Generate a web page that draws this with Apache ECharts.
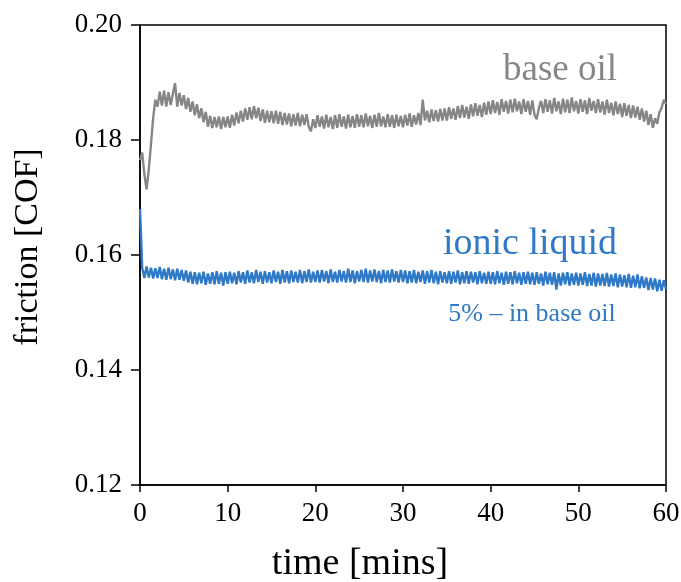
<html>
<head>
<meta charset="utf-8">
<title>friction vs time</title>
<script src="https://cdn.jsdelivr.net/npm/echarts@6/dist/echarts.min.js"></script>
<style>
    body { margin: 0; background: #fff; }
    #chart { width: 681px; height: 582px; }
</style>
</head>
<body>
<div id="chart"></div>
<script>
// one reading every 0.25 min, 0 .. 60
var step_mins = 0.25;

var base_oil = [
    0.1765, 0.1778, 0.1740, 0.1714, 0.1748, 0.1792, 0.1838, 0.1870, 0.1858, 0.1884, 0.1860, 0.1886, 0.1858, 0.1883, 0.1861, 0.1880, 0.1899, 0.1858, 0.1882, 0.1860,
    0.1878, 0.1854, 0.1873, 0.1849, 0.1867, 0.1843, 0.1862, 0.1838, 0.1855, 0.1831, 0.1849, 0.1823, 0.1842, 0.1821, 0.1840, 0.1822, 0.1841, 0.1819, 0.1840, 0.1822,
    0.1841, 0.1821, 0.1844, 0.1825, 0.1848, 0.1829, 0.1851, 0.1832, 0.1855, 0.1835, 0.1857, 0.1836, 0.1859, 0.1838, 0.1856, 0.1833, 0.1853, 0.1830, 0.1851, 0.1831,
    0.1850, 0.1829, 0.1851, 0.1828, 0.1849, 0.1826, 0.1847, 0.1827, 0.1846, 0.1824, 0.1845, 0.1825, 0.1847, 0.1824, 0.1844, 0.1826, 0.1845, 0.1823, 0.1815, 0.1836,
    0.1821, 0.1843, 0.1823, 0.1841, 0.1820, 0.1844, 0.1822, 0.1840, 0.1819, 0.1843, 0.1821, 0.1845, 0.1823, 0.1841, 0.1820, 0.1844, 0.1822, 0.1842, 0.1821, 0.1845,
    0.1823, 0.1843, 0.1822, 0.1846, 0.1824, 0.1842, 0.1821, 0.1844, 0.1823, 0.1847, 0.1824, 0.1841, 0.1822, 0.1845, 0.1823, 0.1843, 0.1821, 0.1844, 0.1824, 0.1842,
    0.1822, 0.1844, 0.1825, 0.1846, 0.1823, 0.1843, 0.1827, 0.1847, 0.1826, 0.1870, 0.1834, 0.1851, 0.1831, 0.1853, 0.1833, 0.1852, 0.1832, 0.1854, 0.1834, 0.1855,
    0.1834, 0.1857, 0.1837, 0.1855, 0.1835, 0.1859, 0.1838, 0.1861, 0.1839, 0.1858, 0.1837, 0.1862, 0.1841, 0.1864, 0.1842, 0.1861, 0.1840, 0.1865, 0.1844, 0.1867,
    0.1845, 0.1869, 0.1847, 0.1866, 0.1844, 0.1871, 0.1849, 0.1868, 0.1846, 0.1870, 0.1848, 0.1872, 0.1850, 0.1867, 0.1845, 0.1871, 0.1849, 0.1868, 0.1844, 0.1869,
    0.1844, 0.1836, 0.1856, 0.1868, 0.1847, 0.1871, 0.1849, 0.1869, 0.1846, 0.1873, 0.1850, 0.1867, 0.1845, 0.1872, 0.1848, 0.1870, 0.1847, 0.1874, 0.1850, 0.1868,
    0.1846, 0.1871, 0.1849, 0.1869, 0.1845, 0.1873, 0.1851, 0.1868, 0.1847, 0.1871, 0.1848, 0.1867, 0.1844, 0.1870, 0.1847, 0.1865, 0.1843, 0.1867, 0.1845, 0.1863,
    0.1840, 0.1864, 0.1842, 0.1861, 0.1838, 0.1860, 0.1839, 0.1858, 0.1835, 0.1855, 0.1832, 0.1851, 0.1826, 0.1845, 0.1821, 0.1838, 0.1828, 0.1848, 0.1856, 0.1870,
    0.1862
];

var ionic_liquid = [
    0.1680, 0.1578, 0.1560, 0.1580, 0.1561, 0.1578, 0.1559, 0.1577, 0.1560, 0.1579, 0.1558, 0.1576, 0.1557, 0.1578, 0.1558, 0.1575, 0.1556, 0.1576, 0.1557, 0.1574,
    0.1555, 0.1573, 0.1552, 0.1571, 0.1550, 0.1570, 0.1549, 0.1569, 0.1551, 0.1571, 0.1548, 0.1568, 0.1550, 0.1570, 0.1549, 0.1572, 0.1550, 0.1569, 0.1547, 0.1570,
    0.1550, 0.1571, 0.1551, 0.1569, 0.1549, 0.1572, 0.1552, 0.1570, 0.1550, 0.1573, 0.1552, 0.1570, 0.1551, 0.1574, 0.1553, 0.1571, 0.1550, 0.1572, 0.1552, 0.1570,
    0.1551, 0.1573, 0.1553, 0.1571, 0.1550, 0.1574, 0.1552, 0.1572, 0.1551, 0.1573, 0.1553, 0.1571, 0.1552, 0.1574, 0.1551, 0.1572, 0.1553, 0.1575, 0.1552, 0.1571,
    0.1553, 0.1573, 0.1552, 0.1574, 0.1554, 0.1572, 0.1551, 0.1575, 0.1553, 0.1571, 0.1552, 0.1574, 0.1554, 0.1572, 0.1552, 0.1576, 0.1553, 0.1573, 0.1551, 0.1572,
    0.1554, 0.1574, 0.1553, 0.1576, 0.1552, 0.1573, 0.1554, 0.1575, 0.1553, 0.1572, 0.1551, 0.1574, 0.1553, 0.1573, 0.1552, 0.1575, 0.1554, 0.1572, 0.1552, 0.1574,
    0.1553, 0.1573, 0.1551, 0.1572, 0.1552, 0.1574, 0.1551, 0.1571, 0.1553, 0.1573, 0.1550, 0.1572, 0.1552, 0.1574, 0.1551, 0.1571, 0.1549, 0.1572, 0.1552, 0.1570,
    0.1551, 0.1572, 0.1550, 0.1571, 0.1552, 0.1573, 0.1549, 0.1570, 0.1551, 0.1572, 0.1550, 0.1571, 0.1552, 0.1570, 0.1549, 0.1572, 0.1551, 0.1569, 0.1550, 0.1571,
    0.1550, 0.1570, 0.1549, 0.1572, 0.1551, 0.1569, 0.1548, 0.1571, 0.1550, 0.1570, 0.1549, 0.1572, 0.1551, 0.1569, 0.1548, 0.1570, 0.1550, 0.1571, 0.1549, 0.1569,
    0.1548, 0.1570, 0.1550, 0.1568, 0.1547, 0.1571, 0.1549, 0.1569, 0.1548, 0.1570, 0.1540, 0.1568, 0.1547, 0.1569, 0.1549, 0.1570, 0.1547, 0.1568, 0.1548, 0.1569,
    0.1547, 0.1568, 0.1548, 0.1570, 0.1546, 0.1567, 0.1547, 0.1569, 0.1545, 0.1568, 0.1547, 0.1567, 0.1546, 0.1569, 0.1545, 0.1566, 0.1546, 0.1568, 0.1544, 0.1566,
    0.1545, 0.1565, 0.1544, 0.1567, 0.1543, 0.1564, 0.1544, 0.1566, 0.1542, 0.1563, 0.1543, 0.1561, 0.1539, 0.1560, 0.1540, 0.1559, 0.1537, 0.1557, 0.1538, 0.1556,
    0.1541
];

var x_ticks = [0, 10, 20, 30, 40, 50, 60];
var y_ticks = [0.12, 0.14, 0.16, 0.18, 0.20];

var font = '"Liberation Serif", "DejaVu Serif", serif';
var gray = '#868686';
var blue = '#2f79c6';

function toPairs(values) {
    var out = [];
    values.forEach(function (v, i) {
        out.push([i * step_mins, v]);
    });
    return out;
}

var chart = echarts.init(document.getElementById('chart'));
var option = {
    animation: false,
    backgroundColor: '#fff',
    grid: {
        left: 140, right: 15, top: 25, bottom: 97,
        outerBoundsMode: 'none',
        containLabel: false,
        show: true, borderColor: '#000', borderWidth: 1.5
    },
    xAxis: {
        type: 'value',
        min: x_ticks[0], max: x_ticks[x_ticks.length - 1], interval: 10,
        splitLine: { show: false },
        axisLine: { lineStyle: { color: '#000', width: 1.5 } },
        axisTick: { inside: false, length: 7, lineStyle: { color: '#000', width: 1.5 } },
        axisLabel: { color: '#000', fontFamily: font, fontSize: 27, margin: 15 }
    },
    yAxis: {
        type: 'value',
        min: y_ticks[0], max: y_ticks[y_ticks.length - 1], interval: 0.02,
        splitLine: { show: false },
        axisLine: { lineStyle: { color: '#000', width: 1.5 } },
        axisTick: { inside: false, length: 9, lineStyle: { color: '#000', width: 1.5 } },
        axisLabel: {
            color: '#000', fontFamily: font, fontSize: 27, margin: 18,
            formatter: function (v) { return v.toFixed(2); }
        }
    },
    series: [
        {
            name: 'base oil', type: 'line', data: toPairs(base_oil),
            showSymbol: false, lineStyle: { color: gray, width: 2.4 }
        },
        {
            name: 'ionic liquid', type: 'line', data: toPairs(ionic_liquid),
            showSymbol: false, lineStyle: { color: blue, width: 2.4 }
        }
    ],
    graphic: [
        // axis titles sit a little off the axis centres in the original
        { type: 'text', x: 360, y: 564, style: { text: 'time [mins]', fill: '#000', font: '38px ' + font, textAlign: 'center', textVerticalAlign: 'middle' } },
        { type: 'text', x: 28, y: 247, rotation: Math.PI / 2, style: { text: 'friction [COF]', fill: '#000', font: '34px ' + font, textAlign: 'center', textVerticalAlign: 'middle' } },
        { type: 'text', x: 560, y: 70, style: { text: 'base oil', fill: gray, font: '37px ' + font, textAlign: 'center', textVerticalAlign: 'middle' } },
        { type: 'text', x: 530, y: 244, style: { text: 'ionic liquid', fill: blue, font: '38px ' + font, textAlign: 'center', textVerticalAlign: 'middle' } },
        { type: 'text', x: 532, y: 314, style: { text: '5% \u2013 in base oil', fill: blue, font: '26px ' + font, textAlign: 'center', textVerticalAlign: 'middle' } }
    ]
};
chart.setOption(option);
</script>
</body>
</html>
